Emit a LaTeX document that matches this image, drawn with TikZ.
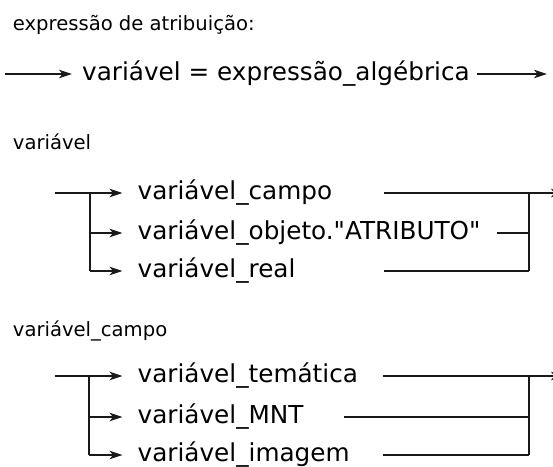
\documentclass[tikz,border=0pt]{standalone}
\usepackage{fontspec}
\setmainfont{DejaVu Sans}[Ligatures=TeXOff]
\usetikzlibrary{arrows.meta}
\tikzset{
  ln/.style={line width=1.3pt, black!90},
  arr/.style={ln, -{Stealth[length=13pt,width=8.5pt,inset=3.5pt]}},
  big/.style={font=\fontsize{24.7}{30}\selectfont, inner ysep=0pt, inner xsep=0pt, anchor=base west},
  lbl/.style={font=\fontsize{19.6}{24}\selectfont, inner sep=0pt, anchor=base west},
}
\begin{document}
\begin{tikzpicture}[x=1pt,y=-1pt]
\clip (0,0) rectangle (553,466);
\fill[white] (0,0) rectangle (553,466);
% section 1
\node[lbl] (t1) at (12.7,30) {expressão de atribuição:};
\coordinate (s1) at (5,74);
\node[big] (ve) at (82,80.75) {variável = expressão\_algébrica};
\coordinate (e1) at (547,74);
\draw[arr] (s1) -- ([xshift=-10pt]s1 -| ve.west);
\draw[arr] ([xshift=7pt]s1 -| ve.east) -- (e1);
% section 2
\node[lbl] (t2) at (12.7,149) {variável};
\node[big] (r1) at (137.5,199.75) {variável\_campo};
\node[big] (r2) at (137.5,239.75) {variável\_objeto."ATRIBUTO"};
\node[big] (r3) at (137.5,277.75) {variável\_real};
\coordinate (a0) at (55,193);
\coordinate (b1) at (90,193);
\coordinate (b2) at (90,233);
\coordinate (b3) at (90,271);
\draw[ln] (a0) -- (b1);
\draw[ln] (b1) -- (b3);
\draw[arr] (b1) -- ([xshift=-15pt]b1 -| r1.west);
\draw[arr] (b2) -- ([xshift=-15pt]b2 -| r2.west);
\draw[arr] (b3) -- ([xshift=-15pt]b3 -| r3.west);
\coordinate (c1) at (384,193);
\coordinate (c2) at (497,233);
\coordinate (c3) at (384,271);
\coordinate (j1) at (529,193);
\coordinate (j2) at (529,233);
\coordinate (j3) at (529,271);
\coordinate (f1) at (564,193);
\draw[arr] (c1) -- (f1);
\draw[ln] (c2) -- (j2);
\draw[ln] (c3) -- (j3);
\draw[ln] (j1) -- (j3);
% section 3
\node[lbl] (t3) at (12.7,336.5) {variável\_campo};
\node[big] (q1) at (137.5,382.75) {variável\_temática};
\node[big] (q2) at (137.5,423.75) {variável\_MNT};
\node[big] (q3) at (137.5,461.75) {variável\_imagem};
\coordinate (d0) at (55,376);
\coordinate (g1) at (89,376);
\coordinate (g2) at (89,417);
\coordinate (g3) at (89,455);
\draw[ln] (d0) -- (g1);
\draw[ln] (g1) -- (g3);
\draw[arr] (g1) -- ([xshift=-15pt]g1 -| q1.west);
\draw[arr] (g2) -- ([xshift=-15pt]g2 -| q2.west);
\draw[arr] (g3) -- ([xshift=-15pt]g3 -| q3.west);
\coordinate (h1) at (383,376);
\coordinate (h2) at (344,417);
\coordinate (h3) at (383,455);
\coordinate (k1) at (529,376);
\coordinate (k2) at (529,417);
\coordinate (k3) at (529,455);
\coordinate (m1) at (564,376);
\draw[arr] (h1) -- (m1);
\draw[ln] (h2) -- (k2);
\draw[ln] (h3) -- (k3);
\draw[ln] (k1) -- (k3);
\end{tikzpicture}
\end{document}
